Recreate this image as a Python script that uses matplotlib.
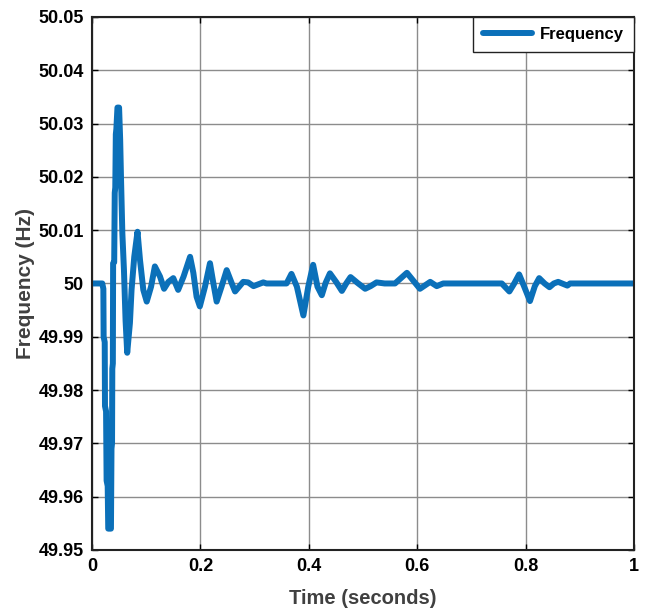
import matplotlib
matplotlib.use('Agg')
from matplotlib import pyplot as plt

# Frequency response (time in s, frequency in Hz).
time_s = [0.0, 0.019, 0.021, 0.0215, 0.0235, 0.024, 0.026, 0.027, 0.029, 0.030,
          0.035, 0.036, 0.037, 0.0375, 0.0385, 0.039, 0.041, 0.042, 0.043, 0.044,
          0.045, 0.047, 0.050, 0.052, 0.0535, 0.056, 0.059, 0.062, 0.065, 0.070,
          0.073, 0.078, 0.084, 0.0886, 0.0947, 0.101, 0.109, 0.116, 0.1255, 0.133,
          0.141, 0.150, 0.159, 0.169, 0.181, 0.187, 0.193, 0.199, 0.2085, 0.2177,
          0.224, 0.230, 0.239, 0.2485, 0.258, 0.264, 0.279, 0.288, 0.298, 0.316,
          0.322, 0.359, 0.368, 0.378, 0.390, 0.399, 0.408, 0.416, 0.424, 0.431,
          0.439, 0.451, 0.461, 0.469, 0.477, 0.490, 0.504, 0.514, 0.525, 0.540,
          0.559, 0.570, 0.581, 0.593, 0.605, 0.624, 0.636, 0.648, 0.756, 0.770,
          0.779, 0.788, 0.797, 0.808, 0.817, 0.825, 0.835, 0.844, 0.852, 0.860,
          0.877, 0.882, 1.0]
freq_hz = [50.0, 50.0, 49.999, 49.990, 49.989, 49.977, 49.976, 49.963, 49.962, 49.954,
           49.954, 49.969, 49.970, 49.984, 49.985, 50.0038, 50.004, 50.017, 50.018, 50.028,
           50.029, 50.033, 50.033, 50.027, 50.020, 50.0095, 50.0025, 49.993, 49.987, 49.9926,
           49.9988, 50.005, 50.0097, 50.0044, 49.9988, 49.9966, 49.9994, 50.0032, 50.0013, 49.999,
           50.0003, 50.001, 49.9988, 50.0013, 50.005, 50.002, 49.9975, 49.9957, 49.9994, 50.0038,
           50.0, 49.9966, 49.9994, 50.0025, 50.0, 49.9985, 50.0003, 50.0002, 49.9995, 50.0002,
           50.0, 50.0, 50.0018, 49.9994, 49.994, 49.9994, 50.0035, 49.9994, 49.9978, 50.0001,
           50.0019, 50.0002, 49.9986, 50.0, 50.0012, 50.0001, 49.999, 49.9995, 50.0002, 50.0,
           50.0, 50.001, 50.002, 50.0005, 49.999, 50.0003, 49.9995, 50.0, 50.0, 49.9985,
           50.0, 50.0017, 49.9995, 49.9967, 49.9995, 50.001, 50.0, 49.9993, 50.0, 50.0003,
           49.9996, 50.0, 50.0]

x_ticks = [0, 0.2, 0.4, 0.6, 0.8, 1]
x_labels = ['0', '0.2', '0.4', '0.6', '0.8', '1']
y_ticks = [49.95, 49.96, 49.97, 49.98, 49.99, 50.0, 50.01, 50.02, 50.03, 50.04, 50.05]
y_labels = ['49.95', '49.96', '49.97', '49.98', '49.99', '50', '50.01', '50.02',
            '50.03', '50.04', '50.05']

plt.rcParams['font.family'] = ['Liberation Sans', 'DejaVu Sans']
plt.rcParams['font.weight'] = 'bold'

fig = plt.figure(figsize=(6.45, 6.1), dpi=100)
ax = fig.add_axes([0.1426, 0.0984, 0.8404, 0.8738])

ax.plot(time_s, freq_hz, color='#0b70b9', linewidth=4.3, label='Frequency',
        solid_joinstyle='round', solid_capstyle='round')

ax.set_xlim(0, 1)
ax.set_ylim(49.95, 50.05)
ax.set_xticks(x_ticks)
ax.set_xticklabels(x_labels)
ax.set_yticks(y_ticks)
ax.set_yticklabels(y_labels)
ax.tick_params(direction='in', top=True, right=True, length=4, width=1,
               labelsize=13, pad=6)
ax.grid(True, color='#8c8c8c', linewidth=1)
ax.set_axisbelow(True)
for spine in ax.spines.values():
    spine.set_linewidth(1.5)
    spine.set_color('#222222')

ax.set_xlabel('Time (seconds)', fontsize=14.5, fontweight='bold', color='#404040', labelpad=10)
ax.set_ylabel('Frequency (Hz)', fontsize=15, fontweight='bold', color='#404040', labelpad=2)

leg = ax.legend(loc='upper right', borderaxespad=0, fancybox=False,
                prop={'size': 12, 'weight': 'bold'}, handlelength=2.9,
                handletextpad=0.5, borderpad=0.6, framealpha=1)
leg.get_frame().set_edgecolor('#222222')
leg.get_frame().set_linewidth(1)

fig.savefig('out.png', dpi=100)
